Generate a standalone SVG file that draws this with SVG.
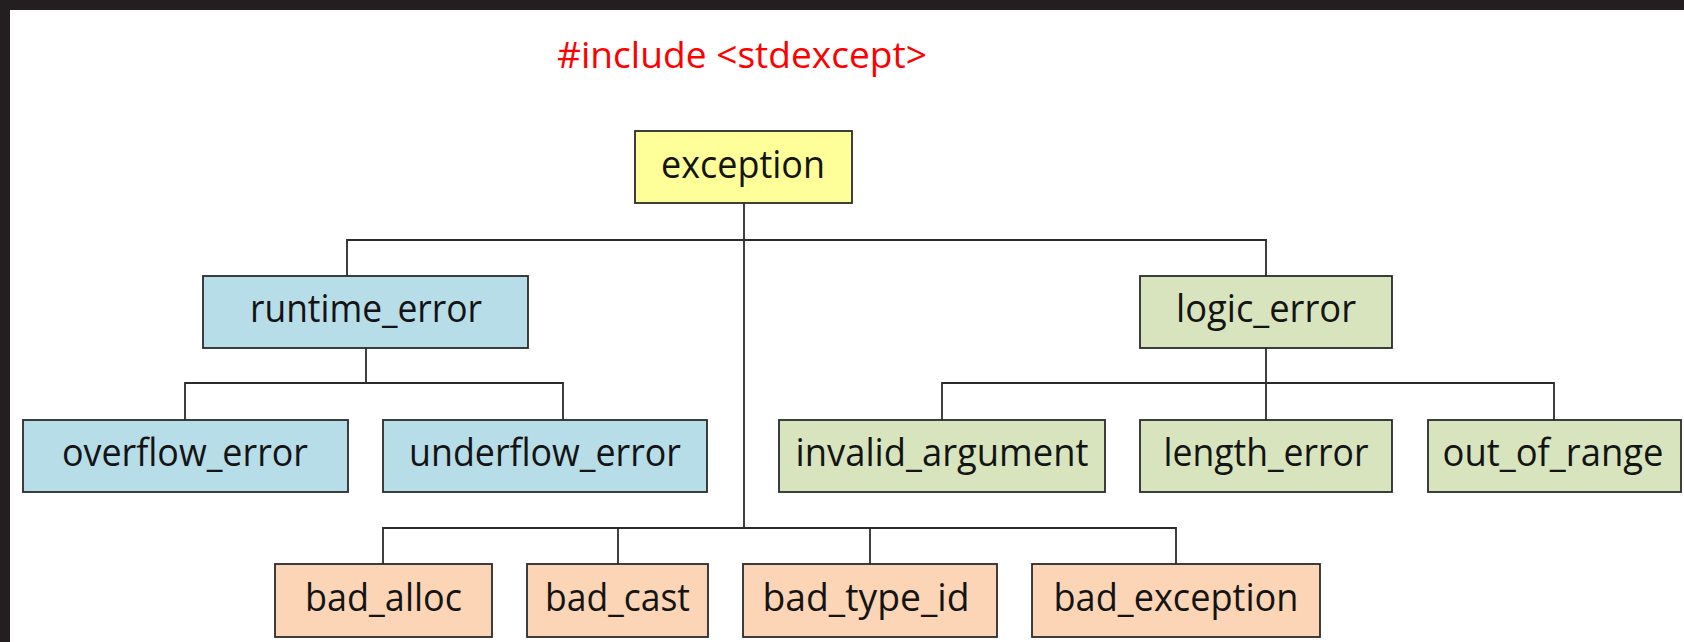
<svg xmlns="http://www.w3.org/2000/svg" width="1684" height="642" viewBox="0 0 1684 642">
  <style>
    .frame { fill: #231f20; }
    .box { stroke: #2b2b2b; stroke-width: 1.8; }
    .root { fill: #ffff99; }
    .rt { fill: #b7dde8; }
    .lg { fill: #d7e4bd; }
    .bad { fill: #fbd5b5; }
    .label { font-family: "Open Sans", "Noto Sans", "Liberation Sans", sans-serif; font-size: 39px; fill: #141414; text-anchor: middle; }
    .title { font-family: "Open Sans", "Noto Sans", "Liberation Sans", sans-serif; font-size: 36px; fill: #ff0000; text-anchor: middle; }
    .links path { fill: none; stroke: #2b2b2b; stroke-width: 1.8; }
  </style>

  <!-- page background and window edge -->
  <rect x="0" y="0" width="1684" height="642" fill="#ffffff"/>
  <rect class="frame" x="0" y="0" width="1684" height="10"/>
  <rect class="frame" x="0" y="0" width="10" height="642"/>

  <text class="title" x="742" y="68" textLength="370" lengthAdjust="spacingAndGlyphs">#include &lt;stdexcept&gt;</text>

  <!-- hierarchy lines -->
  <g class="links">
    <path d="M744 203 V528"/>
    <path d="M347 276 V240 H1266 V276"/>
    <path d="M366 348 V383"/>
    <path d="M185 420 V383 H563 V420"/>
    <path d="M1266 348 V420"/>
    <path d="M942 420 V383 H1554 V420"/>
    <path d="M383 564 V528 H1176 V564"/>
    <path d="M618 528 V564"/>
    <path d="M870 528 V564"/>
  </g>

  <g id="exception">
    <rect class="box root" x="635" y="131" width="217" height="72"/>
    <text class="label" x="743" y="178" textLength="164" lengthAdjust="spacingAndGlyphs">exception</text>
  </g>

  <g id="runtime_error">
    <rect class="box rt" x="203" y="276" width="325" height="72"/>
    <text class="label" x="366" y="322" textLength="232" lengthAdjust="spacingAndGlyphs">runtime_error</text>
  </g>
  <g id="logic_error">
    <rect class="box lg" x="1140" y="276" width="252" height="72"/>
    <text class="label" x="1266" y="322" textLength="180" lengthAdjust="spacingAndGlyphs">logic_error</text>
  </g>

  <g id="overflow_error">
    <rect class="box rt" x="23" y="420" width="325" height="72"/>
    <text class="label" x="185" y="466" textLength="246" lengthAdjust="spacingAndGlyphs">overflow_error</text>
  </g>
  <g id="underflow_error">
    <rect class="box rt" x="383" y="420" width="324" height="72"/>
    <text class="label" x="545" y="466" textLength="272" lengthAdjust="spacingAndGlyphs">underflow_error</text>
  </g>
  <g id="invalid_argument">
    <rect class="box lg" x="779" y="420" width="326" height="72"/>
    <text class="label" x="942" y="466" textLength="293" lengthAdjust="spacingAndGlyphs">invalid_argument</text>
  </g>
  <g id="length_error">
    <rect class="box lg" x="1140" y="420" width="252" height="72"/>
    <text class="label" x="1266" y="466" textLength="205" lengthAdjust="spacingAndGlyphs">length_error</text>
  </g>
  <g id="out_of_range">
    <rect class="box lg" x="1428" y="420" width="253" height="72"/>
    <text class="label" x="1553" y="466" textLength="221" lengthAdjust="spacingAndGlyphs">out_of_range</text>
  </g>

  <g id="bad_alloc">
    <rect class="box bad" x="275" y="564" width="217" height="73"/>
    <text class="label" x="383.5" y="611" textLength="157" lengthAdjust="spacingAndGlyphs">bad_alloc</text>
  </g>
  <g id="bad_cast">
    <rect class="box bad" x="527" y="564" width="181" height="73"/>
    <text class="label" x="617.5" y="611" textLength="145" lengthAdjust="spacingAndGlyphs">bad_cast</text>
  </g>
  <g id="bad_type_id">
    <rect class="box bad" x="743" y="564" width="254" height="73"/>
    <text class="label" x="866" y="611" textLength="207" lengthAdjust="spacingAndGlyphs">bad_type_id</text>
  </g>
  <g id="bad_exception">
    <rect class="box bad" x="1032" y="564" width="288" height="73"/>
    <text class="label" x="1176" y="611" textLength="245" lengthAdjust="spacingAndGlyphs">bad_exception</text>
  </g>
</svg>
